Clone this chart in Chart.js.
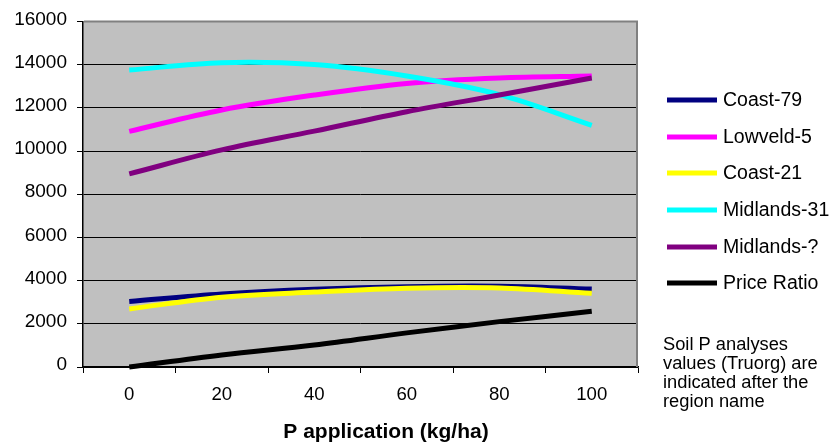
<!DOCTYPE html>
<html>
<head>
<meta charset="utf-8">
<title>Yield response to P application</title>
<script src="https://cdn.jsdelivr.net/npm/chart.js@4/dist/chart.umd.min.js"></script>
<style>
  html, body { margin: 0; padding: 0; background: #ffffff; }
  #chart { display: block; }
</style>
</head>
<body>
<canvas id="chart" width="835" height="444"></canvas>
<script>
// P application rates (kg/ha)
const pRates = [0, 20, 40, 60, 80, 100];

// Yield per region (soil P value after the region name) and price ratio line
const coast79    = [3030, 3380, 3600, 3720, 3740, 3610];
const lowveld5   = [10910, 11900, 12590, 13130, 13380, 13470];
const coast21    = [2690, 3230, 3470, 3650, 3660, 3410];
const midlands31 = [13750, 14090, 14000, 13470, 12610, 11190];
const midlandsQ  = [8940, 10050, 10920, 11820, 12590, 13380];
const priceRatio = [0, 560, 1020, 1580, 2100, 2580];

const seriesLabels = ['Coast-79', 'Lowveld-5', 'Coast-21', 'Midlands-31', 'Midlands-?', 'Price Ratio'];
const seriesValues = [coast79, lowveld5, coast21, midlands31, midlandsQ, priceRatio];
const seriesColors = ['#000080', '#FF00FF', '#FFFF00', '#00FFFF', '#800080', '#000000'];

const xTickValues = [-10, 0, 10, 20, 30, 40, 50, 60, 70, 80, 90, 100, 110];
const yMax = 16000, yStep = 2000;

const noteLines = ['Soil P analyses', 'values (Truorg) are', 'indicated after the', 'region name'];
const xTitle = 'P application (kg/ha)';

const FONT = '"Liberation Sans", Arial, sans-serif';

const datasets = seriesValues.map((vals, i) => ({
  label: seriesLabels[i],
  data: vals.map((v, j) => ({ x: pRates[j], y: v })),
  borderColor: seriesColors[i],
  backgroundColor: seriesColors[i],
  borderWidth: 5,
  pointRadius: 0,
  pointHoverRadius: 0,
  tension: 0.35,
  fill: false,
  clip: false,
  borderCapStyle: 'butt',
  borderJoinStyle: 'round',
  order: seriesValues.length - i   // later series drawn on top
}));

// Grey plot background and grey frame on the top and right edges
const plotFrame = {
  id: 'plotFrame',
  beforeDraw(chart) {
    const { ctx, chartArea: a } = chart;
    ctx.save();
    ctx.fillStyle = '#C0C0C0';
    ctx.fillRect(a.left, a.top, a.right - a.left, a.bottom - a.top);
    ctx.restore();
  },
  beforeDatasetsDraw(chart) {
    const { ctx, chartArea: a } = chart;
    ctx.save();
    ctx.strokeStyle = '#808080';
    ctx.lineWidth = 2;
    ctx.beginPath();
    ctx.moveTo(a.left + 1, a.top);
    ctx.lineTo(a.right - 1, a.top);
    ctx.lineTo(a.right - 1, a.bottom);
    ctx.stroke();
    ctx.restore();
  }
};

// Legend on the right, the note below it, and the x-axis title
const sideText = {
  id: 'sideText',
  afterDraw(chart) {
    const { ctx } = chart;
    ctx.save();
    const rowY = [100, 137, 173, 210, 247, 283];
    ctx.font = '19.5px ' + FONT;
    ctx.textBaseline = 'middle';
    ctx.textAlign = 'left';
    chart.data.datasets.forEach((ds, i) => {
      const y = rowY[i];
      ctx.strokeStyle = ds.borderColor;
      ctx.lineWidth = 5;
      ctx.lineCap = 'butt';
      ctx.beginPath();
      ctx.moveTo(667, y);
      ctx.lineTo(717, y);
      ctx.stroke();
      ctx.fillStyle = '#000';
      ctx.fillText(ds.label, 723, y + 1);
    });

    ctx.font = '18.3px ' + FONT;
    noteLines.forEach((t, i) => ctx.fillText(t, 663, 345 + i * 19));

    ctx.font = 'bold 21px ' + FONT;
    ctx.textAlign = 'center';
    ctx.textBaseline = 'alphabetic';
    ctx.fillText(xTitle, 386, 438);
    ctx.restore();
  }
};

new Chart(document.getElementById('chart'), {
  type: 'line',
  data: { datasets },
  plugins: [plotFrame, sideText],
  options: {
    responsive: false,
    animation: false,
    events: [],
    layout: { padding: { left: 0, right: 197, top: 21, bottom: 0 } },
    plugins: {
      legend: { display: false },
      tooltip: { enabled: false },
      title: { display: false }
    },
    scales: {
      x: {
        type: 'linear',
        min: -10,
        max: 110,
        afterBuildTicks(scale) {
          scale.ticks = xTickValues.map(v => ({ value: v }));
        },
        afterFit(scale) { scale.height = 77; },
        ticks: {
          autoSkip: false,
          maxRotation: 0,
          padding: 11,
          color: '#000',
          font: { family: FONT, size: 18.6 },
          callback: v => (v >= 0 && v % 20 === 0) ? String(v) : ''
        },
        grid: {
          drawOnChartArea: false,
          drawTicks: true,
          tickLength: 6,
          tickWidth: 1,
          tickColor: c => (c.tick && (c.tick.value + 10) % 20 === 0) ? '#000' : 'rgba(0,0,0,0)'
        },
        border: { display: true, color: '#000', width: 1.5 }
      },
      y: {
        min: 0,
        max: yMax,
        afterFit(scale) { scale.width = 83; },
        ticks: {
          stepSize: yStep,
          padding: 10,
          labelOffset: -2,
          color: '#000',
          font: { family: FONT, size: 19 },
          callback: v => String(v)
        },
        grid: {
          color: c => (c.tick && c.tick.value === yMax) ? 'rgba(0,0,0,0)' : '#000',
          lineWidth: 1,
          tickLength: 6,
          tickColor: '#000'
        },
        border: { display: true, color: '#000', width: 1.5 }
      }
    }
  }
});
</script>
</body>
</html>
